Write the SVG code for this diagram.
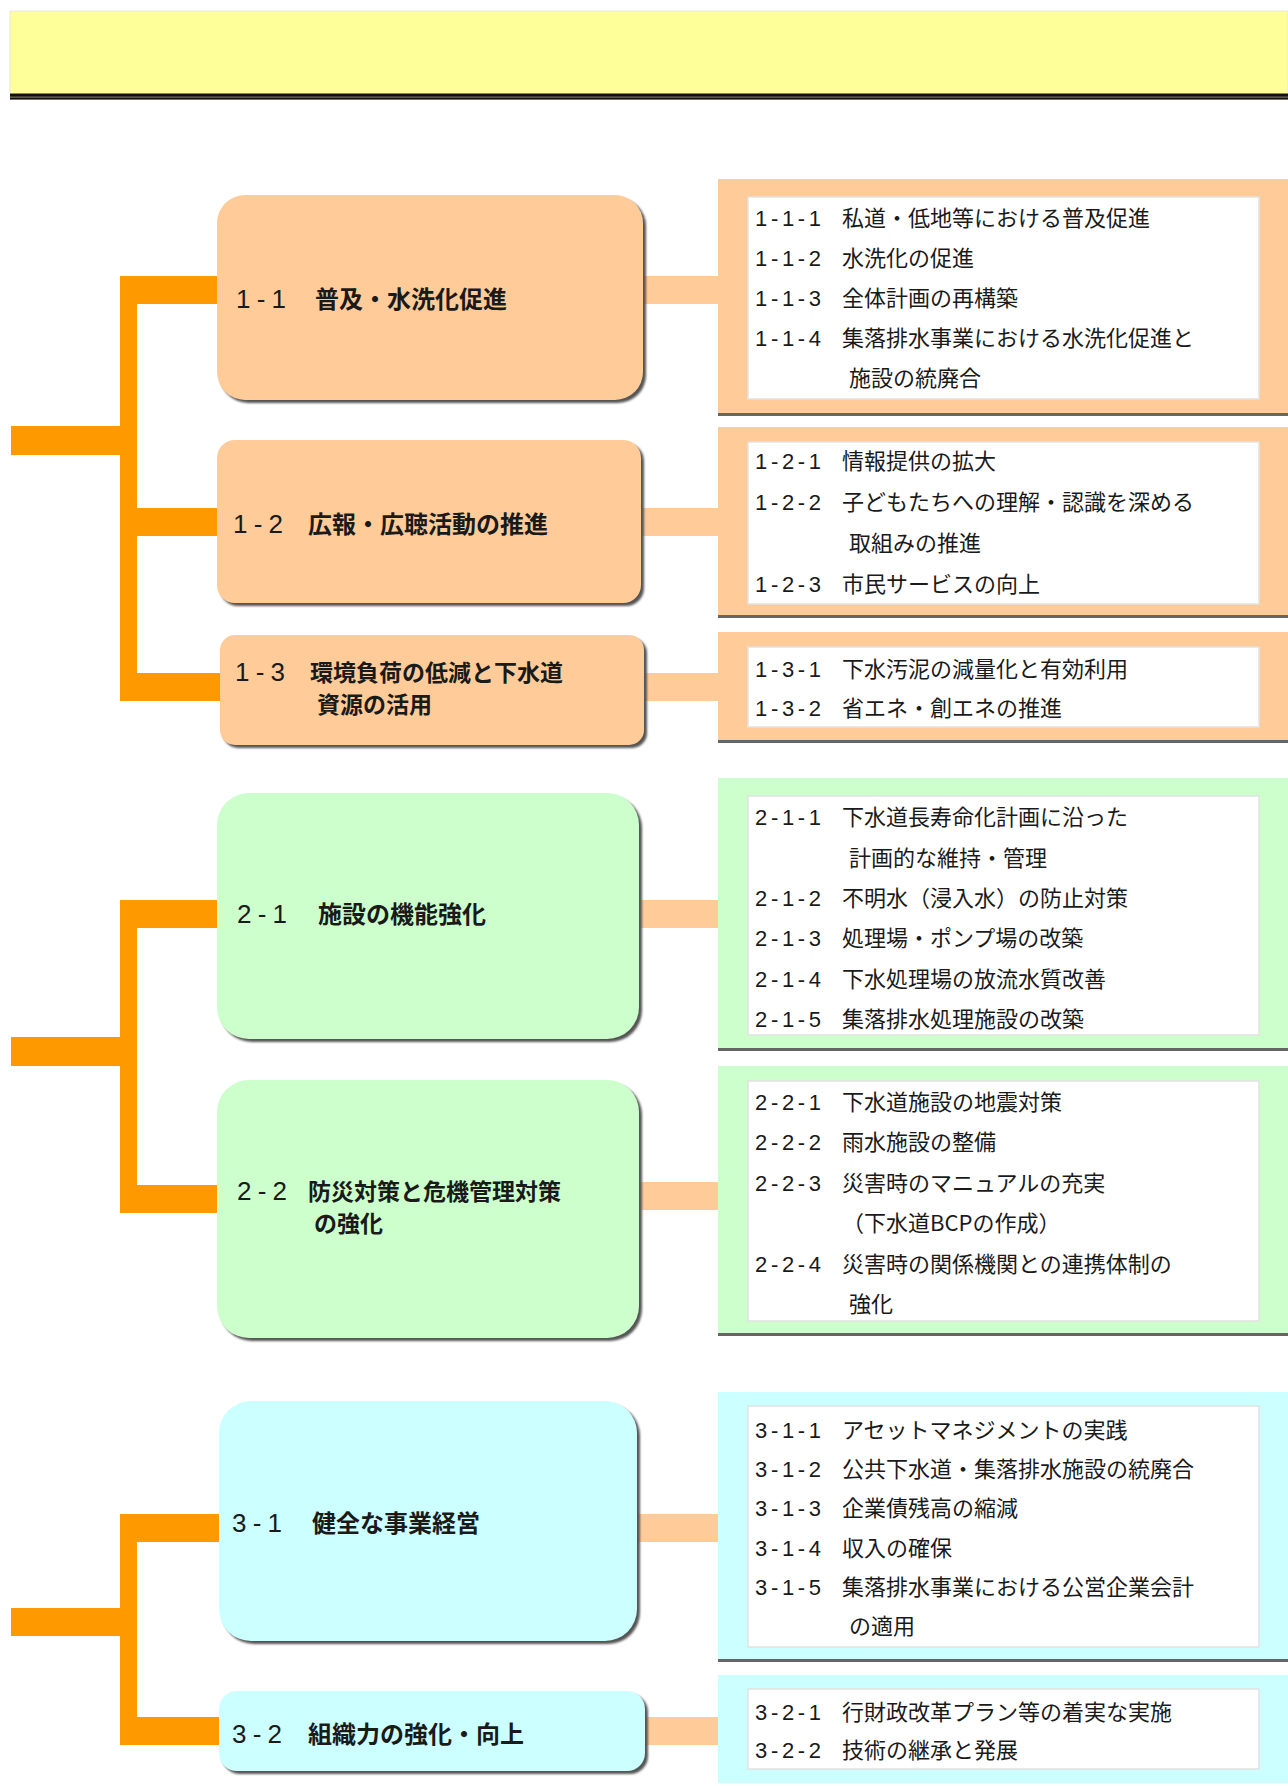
<svg xmlns="http://www.w3.org/2000/svg" width="1288" height="1786" viewBox="0 0 1288 1786">
<style>
.lbl{font-family:"Noto Sans CJK JP","Noto Sans",sans-serif;font-size:24px;font-weight:bold;fill:#1a1a1a}
.lbl2{font-family:"Noto Sans CJK JP","Noto Sans",sans-serif;font-size:23px;font-weight:bold;fill:#1a1a1a}
.lnum{font-family:"Liberation Sans","Noto Sans CJK JP",sans-serif;font-size:26px;fill:#1a1a1a}
.itm{font-family:"Noto Sans CJK JP","Noto Sans",sans-serif;font-size:22px;fill:#1a1a1a}
.inum{font-family:"Liberation Sans","Noto Sans CJK JP",sans-serif;font-size:22px;fill:#1a1a1a}
.org{fill:#FF9900}
.pch{fill:#FFCC99}
.grn{fill:#CCFFCC}
.cyn{fill:#CCFFFF}
.sh{fill:#555;filter:url(#blur)}
.pshadow{fill:#666}
.inner{fill:#FFFFFF;stroke:#E2E2E2;stroke-width:1.5}
</style>
<defs>
<filter id="blur" x="-5%" y="-5%" width="110%" height="110%"><feGaussianBlur stdDeviation="1"/></filter>
</defs>
<rect width="1288" height="1786" fill="#FFFFFF"/>
<g id="banner">
<rect x="10" y="11" width="1278" height="83" fill="#FFFF99" stroke="#E8E8E0" stroke-width="1"/>
<rect x="10" y="93" width="1278" height="7" fill="#8A8A50"/>
<rect x="10" y="94" width="1278" height="2.6" fill="#111"/>
<rect x="10" y="97.6" width="1278" height="1.6" fill="#111"/>
</g>
<g id="connectors">
<rect class="org" x="11" y="426" width="115" height="29"/>
<rect class="org" x="120" y="276" width="17" height="425"/>
<rect class="org" x="120" y="276" width="100" height="28"/>
<rect class="org" x="120" y="508" width="100" height="28"/>
<rect class="org" x="120" y="673" width="102" height="28"/>
<rect class="pch" x="640" y="276" width="80" height="28"/>
<rect class="pch" x="638" y="508" width="82" height="28"/>
<rect class="pch" x="641" y="673" width="79" height="28"/>
<rect class="org" x="11" y="1037" width="115" height="29"/>
<rect class="org" x="120" y="900" width="17" height="313"/>
<rect class="org" x="120" y="900" width="100" height="28"/>
<rect class="org" x="120" y="1185" width="100" height="28"/>
<rect class="pch" x="638" y="900" width="82" height="28"/>
<rect class="pch" x="638" y="1182" width="82" height="28"/>
<rect class="org" x="11" y="1608" width="115" height="28"/>
<rect class="org" x="120" y="1514" width="17" height="231"/>
<rect class="org" x="120" y="1514" width="102" height="28"/>
<rect class="org" x="120" y="1717" width="102" height="28"/>
<rect class="pch" x="634" y="1514" width="86" height="28"/>
<rect class="pch" x="642" y="1717" width="78" height="28"/>
</g>
<g id="node-1-1">
<rect class="sh" x="220" y="198" width="426" height="205" rx="28"/>
<rect class="pch" x="217" y="195" width="426" height="205" rx="28"/>
<text class="lnum" x="236" y="308" textLength="50" lengthAdjust="spacing">1-1</text>
<text class="lbl" x="315" y="308">普及・水洗化促進</text>
</g>
<g id="node-1-2">
<rect class="sh" x="220" y="443" width="424" height="163" rx="18"/>
<rect class="pch" x="217" y="440" width="424" height="163" rx="18"/>
<text class="lnum" x="233" y="533" textLength="50" lengthAdjust="spacing">1-2</text>
<text class="lbl" x="308" y="533">広報・広聴活動の推進</text>
</g>
<g id="node-1-3">
<rect class="sh" x="223" y="638" width="424" height="110" rx="15"/>
<rect class="pch" x="220" y="635" width="424" height="110" rx="15"/>
<text class="lnum" x="235" y="681" textLength="50" lengthAdjust="spacing">1-3</text>
<text class="lbl2" x="310" y="681">環境負荷の低減と下水道</text>
<text class="lbl2" x="317" y="713">資源の活用</text>
</g>
<g id="node-2-1">
<rect class="sh" x="220" y="796" width="422" height="246" rx="32"/>
<rect class="grn" x="217" y="793" width="422" height="246" rx="32"/>
<text class="lnum" x="237" y="923" textLength="50" lengthAdjust="spacing">2-1</text>
<text class="lbl" x="318" y="923">施設の機能強化</text>
</g>
<g id="node-2-2">
<rect class="sh" x="220" y="1083" width="422" height="258" rx="32"/>
<rect class="grn" x="217" y="1080" width="422" height="258" rx="32"/>
<text class="lnum" x="237" y="1200" textLength="50" lengthAdjust="spacing">2-2</text>
<text class="lbl2" x="308" y="1200">防災対策と危機管理対策</text>
<text class="lbl2" x="314" y="1232">の強化</text>
</g>
<g id="node-3-1">
<rect class="sh" x="222" y="1404" width="418" height="240" rx="32"/>
<rect class="cyn" x="219" y="1401" width="418" height="240" rx="32"/>
<text class="lnum" x="232" y="1532" textLength="50" lengthAdjust="spacing">3-1</text>
<text class="lbl" x="312" y="1532">健全な事業経営</text>
</g>
<g id="node-3-2">
<rect class="sh" x="222" y="1694" width="426" height="80" rx="18"/>
<rect class="cyn" x="219" y="1691" width="426" height="80" rx="18"/>
<text class="lnum" x="232" y="1743" textLength="50" lengthAdjust="spacing">3-2</text>
<text class="lbl" x="308" y="1743">組織力の強化・向上</text>
</g>
<g id="panel-1-1">
<rect class="pshadow" x="718" y="182" width="570" height="234"/>
<rect class="pch" x="718" y="179" width="570" height="234"/>
<rect class="inner" x="748" y="197" width="511" height="202"/>
<text class="inum" x="755" y="226" textLength="66" lengthAdjust="spacing">1-1-1</text><text class="itm" x="842" y="226">私道・低地等における普及促進</text>
<text class="inum" x="755" y="266" textLength="66" lengthAdjust="spacing">1-1-2</text><text class="itm" x="842" y="266">水洗化の促進</text>
<text class="inum" x="755" y="306" textLength="66" lengthAdjust="spacing">1-1-3</text><text class="itm" x="842" y="306">全体計画の再構築</text>
<text class="inum" x="755" y="346" textLength="66" lengthAdjust="spacing">1-1-4</text><text class="itm" x="842" y="346">集落排水事業における水洗化促進と</text>
<text class="itm" x="849" y="386">施設の統廃合</text>
</g>
<g id="panel-1-2">
<rect class="pshadow" x="718" y="430" width="570" height="188"/>
<rect class="pch" x="718" y="427" width="570" height="188"/>
<rect class="inner" x="748" y="442" width="511" height="162"/>
<text class="inum" x="755" y="469" textLength="66" lengthAdjust="spacing">1-2-1</text><text class="itm" x="842" y="469">情報提供の拡大</text>
<text class="inum" x="755" y="510" textLength="66" lengthAdjust="spacing">1-2-2</text><text class="itm" x="842" y="510">子どもたちへの理解・認識を深める</text>
<text class="itm" x="849" y="551">取組みの推進</text>
<text class="inum" x="755" y="592" textLength="66" lengthAdjust="spacing">1-2-3</text><text class="itm" x="842" y="592">市民サービスの向上</text>
</g>
<g id="panel-1-3">
<rect class="pshadow" x="718" y="635" width="570" height="108"/>
<rect class="pch" x="718" y="632" width="570" height="108"/>
<rect class="inner" x="748" y="647" width="511" height="80"/>
<text class="inum" x="755" y="677" textLength="66" lengthAdjust="spacing">1-3-1</text><text class="itm" x="842" y="677">下水汚泥の減量化と有効利用</text>
<text class="inum" x="755" y="716" textLength="66" lengthAdjust="spacing">1-3-2</text><text class="itm" x="842" y="716">省エネ・創エネの推進</text>
</g>
<g id="panel-2-1">
<rect class="pshadow" x="718" y="781" width="570" height="270"/>
<rect class="grn" x="718" y="778" width="570" height="270"/>
<rect class="inner" x="748" y="796" width="511" height="239"/>
<text class="inum" x="755" y="825" textLength="66" lengthAdjust="spacing">2-1-1</text><text class="itm" x="842" y="825">下水道長寿命化計画に沿った</text>
<text class="itm" x="849" y="866">計画的な維持・管理</text>
<text class="inum" x="755" y="906" textLength="66" lengthAdjust="spacing">2-1-2</text><text class="itm" x="842" y="906">不明水（浸入水）の防止対策</text>
<text class="inum" x="755" y="946" textLength="66" lengthAdjust="spacing">2-1-3</text><text class="itm" x="842" y="946">処理場・ポンプ場の改築</text>
<text class="inum" x="755" y="987" textLength="66" lengthAdjust="spacing">2-1-4</text><text class="itm" x="842" y="987">下水処理場の放流水質改善</text>
<text class="inum" x="755" y="1027" textLength="66" lengthAdjust="spacing">2-1-5</text><text class="itm" x="842" y="1027">集落排水処理施設の改築</text>
</g>
<g id="panel-2-2">
<rect class="pshadow" x="718" y="1069" width="570" height="267"/>
<rect class="grn" x="718" y="1066" width="570" height="267"/>
<rect class="inner" x="748" y="1081" width="511" height="240"/>
<text class="inum" x="755" y="1110" textLength="66" lengthAdjust="spacing">2-2-1</text><text class="itm" x="842" y="1110">下水道施設の地震対策</text>
<text class="inum" x="755" y="1150" textLength="66" lengthAdjust="spacing">2-2-2</text><text class="itm" x="842" y="1150">雨水施設の整備</text>
<text class="inum" x="755" y="1191" textLength="66" lengthAdjust="spacing">2-2-3</text><text class="itm" x="842" y="1191">災害時のマニュアルの充実</text>
<text class="itm" x="842" y="1231">（下水道BCPの作成）</text>
<text class="inum" x="755" y="1272" textLength="66" lengthAdjust="spacing">2-2-4</text><text class="itm" x="842" y="1272">災害時の関係機関との連携体制の</text>
<text class="itm" x="849" y="1312">強化</text>
</g>
<g id="panel-3-1">
<rect class="pshadow" x="718" y="1395" width="570" height="267"/>
<rect class="cyn" x="718" y="1392" width="570" height="267"/>
<rect class="inner" x="748" y="1406" width="511" height="241"/>
<text class="inum" x="755" y="1438" textLength="66" lengthAdjust="spacing">3-1-1</text><text class="itm" x="842" y="1438">アセットマネジメントの実践</text>
<text class="inum" x="755" y="1477" textLength="66" lengthAdjust="spacing">3-1-2</text><text class="itm" x="842" y="1477">公共下水道・集落排水施設の統廃合</text>
<text class="inum" x="755" y="1516" textLength="66" lengthAdjust="spacing">3-1-3</text><text class="itm" x="842" y="1516">企業債残高の縮減</text>
<text class="inum" x="755" y="1556" textLength="66" lengthAdjust="spacing">3-1-4</text><text class="itm" x="842" y="1556">収入の確保</text>
<text class="inum" x="755" y="1595" textLength="66" lengthAdjust="spacing">3-1-5</text><text class="itm" x="842" y="1595">集落排水事業における公営企業会計</text>
<text class="itm" x="849" y="1634">の適用</text>
</g>
<g id="panel-3-2">
<rect class="cyn" x="718" y="1675" width="570" height="108"/>
<rect class="inner" x="748" y="1689" width="511" height="80"/>
<text class="inum" x="755" y="1720" textLength="66" lengthAdjust="spacing">3-2-1</text><text class="itm" x="842" y="1720">行財政改革プラン等の着実な実施</text>
<text class="inum" x="755" y="1758" textLength="66" lengthAdjust="spacing">3-2-2</text><text class="itm" x="842" y="1758">技術の継承と発展</text>
</g>
</svg>
